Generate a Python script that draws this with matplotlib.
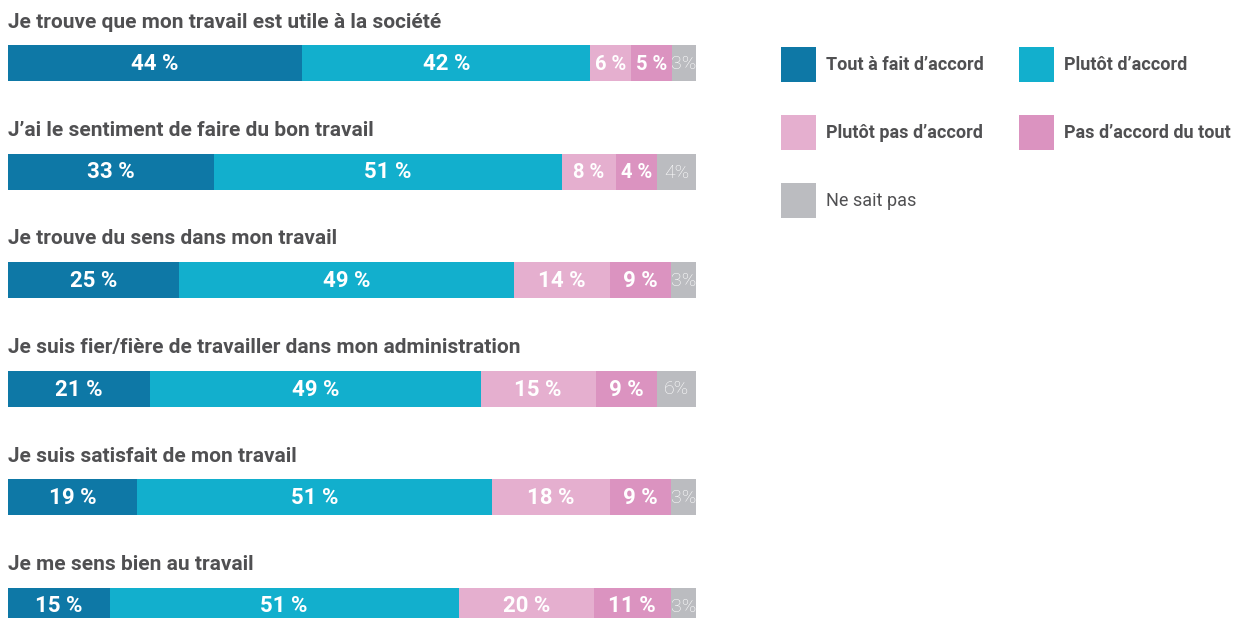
import matplotlib
matplotlib.use("Agg")
import matplotlib.pyplot as plt
from matplotlib.patches import Rectangle

questions = [
    "Je trouve que mon travail est utile à la société",
    "J’ai le sentiment de faire du bon travail",
    "Je trouve du sens dans mon travail",
    "Je suis fier/fière de travailler dans mon administration",
    "Je suis satisfait de mon travail",
    "Je me sens bien au travail",
]
categories = ["Tout à fait d’accord", "Plutôt d’accord", "Plutôt pas d’accord",
              "Pas d’accord du tout", "Ne sait pas"]

# printed labels (%)
tout_a_fait = [44, 33, 25, 21, 19, 15]
plutot = [42, 51, 49, 49, 51, 51]
plutot_pas = [6, 8, 14, 15, 18, 20]
pas_du_tout = [5, 4, 9, 9, 9, 11]
ne_sait_pas = [3, 4, 3, 6, 3, 3]
labels = [tout_a_fait, plutot, plutot_pas, pas_du_tout, ne_sait_pas]

# drawn segment lengths as they appear in the picture (% of bar)
len_tout_a_fait = [42.8, 29.9, 24.8, 20.7, 18.8, 14.8]
len_plutot = [41.8, 50.6, 48.8, 48.0, 51.5, 50.7]
len_plutot_pas = [6.0, 7.9, 13.9, 16.7, 17.2, 19.7]
len_pas_du_tout = [5.9, 6.0, 8.8, 9.0, 8.8, 11.1]
len_ne_sait_pas = [3.5, 5.6, 3.7, 5.6, 3.7, 3.7]
lengths = [len_tout_a_fait, len_plutot, len_plutot_pas, len_pas_du_tout, len_ne_sait_pas]

colors = ["#0E78A6", "#12AFCD", "#E5AFCF", "#DB93C0", "#BBBCC0"]

W, H = 1241, 618
fig = plt.figure(figsize=(W / 100, H / 100), dpi=100)
ax = fig.add_axes([8 / W, 0, 688 / W, 1])
ax.set_ylim(H, 0)
ax.axis("off")

text_col = "#505052"
row_step = 108.5
bar_h = 36
max_total = 0
for i, q in enumerate(questions):
    yc = 63 + i * row_step
    ax.text(0, yc - 41, q, ha="left", va="center", fontsize=15,
            fontweight="bold", color=text_col, family="Roboto")
    left = 0
    for j in range(5):
        v = lengths[j][i]
        lab = labels[j][i]
        ax.barh(yc, v, left=left, height=bar_h, color=colors[j], linewidth=0)
        if j == 4:
            ax.text(left + v / 2, yc + 1, f"{lab}%", ha="center", va="center",
                    fontsize=14, fontweight="light", color="white", family="Roboto")
        else:
            fs = 16 if v >= 8.5 else 14.5
            ax.text(left + v / 2, yc + 1, f"{lab} %", ha="center", va="center",
                    fontsize=fs, fontweight="bold", color="white", family="Roboto")
        left += v
    max_total = max(max_total, left)
ax.set_xlim(0, max_total)

# legend
leg_pos = [(781, 64.5), (1019, 64.5), (781, 132.5), (1019, 132.5), (781, 200.5)]
for j, (lx, ly) in enumerate(leg_pos):
    fig.add_artist(Rectangle((lx / W, 1 - (ly + 17.5) / H), 35 / W, 35 / H,
                             transform=fig.transFigure, color=colors[j], linewidth=0))
    fig.text((lx + 45) / W, 1 - (ly + 1) / H, categories[j], ha="left", va="center",
             fontsize=13, fontweight="normal" if j == 4 else "bold",
             color=text_col, family="Roboto")

fig.savefig("out.png", dpi=100)
